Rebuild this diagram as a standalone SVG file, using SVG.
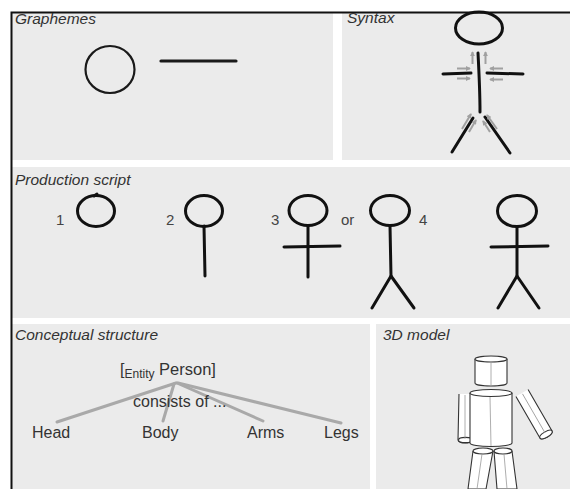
<svg xmlns="http://www.w3.org/2000/svg" width="570" height="489" viewBox="0 0 570 489">
  <defs>
    <marker id="ga" viewBox="0 0 6 6" refX="5" refY="3" markerWidth="5" markerHeight="5" orient="auto" markerUnits="userSpaceOnUse">
      <path d="M0,0 L6,3 L0,6 Z" fill="#a0a0a0"/>
    </marker>
  </defs>
  <style>
    .panel { fill: #ebebeb; }
    .title { font-family: "Liberation Sans", Arial, sans-serif; font-style: italic; font-size: 15.5px; fill: #333333; }
    .lbl { font-family: "Liberation Sans", Arial, sans-serif; font-size: 16px; fill: #333333; }
    .num { font-family: "Liberation Sans", Arial, sans-serif; font-size: 15px; fill: #444444; }
    .ink { fill: none; stroke: #111111; stroke-width: 3; stroke-linecap: round; stroke-linejoin: round; }
    .ink2 { fill: none; stroke: #1a1a1a; stroke-width: 2.2; stroke-linecap: round; }
    .arw { fill: none; stroke: #a0a0a0; stroke-width: 2; marker-end: url(#ga); }
    .tree { fill: none; stroke: #a9a9a9; stroke-width: 3; stroke-linecap: round; }
    .cyl { fill: #ffffff; stroke: #333333; stroke-width: 1.1; }
    .axis { fill: none; stroke: #999999; stroke-width: 0.8; }
  </style>

  <rect x="0" y="0" width="570" height="489" fill="#ffffff"/>

  <!-- panel backgrounds -->
  <rect class="panel" x="12" y="13" width="321" height="147"/>
  <rect class="panel" x="342" y="13" width="228" height="147"/>
  <rect class="panel" x="12" y="167" width="558" height="151"/>
  <rect class="panel" x="12" y="324" width="358" height="165"/>
  <rect class="panel" x="376" y="324" width="194" height="165"/>

  <!-- outer frame -->
  <path d="M11.5,489 L11.5,12.5 L570,12.5" fill="none" stroke="#111111" stroke-width="2"/>

  <!-- Graphemes -->
  <g id="graphemes">
    <text class="title" x="15" y="24">Graphemes</text>
    <ellipse class="ink2" cx="110" cy="69.5" rx="24.5" ry="23.5"/>
    <path d="M161,61 L236,61" fill="none" stroke="#1a1a1a" stroke-width="3.2" stroke-linecap="round"/>
  </g>

  <!-- Syntax -->
  <g id="syntax">
    <text class="title" x="347" y="23">Syntax</text>
    <ellipse class="ink" cx="479" cy="28" rx="23.5" ry="16"/>
    <path class="ink" d="M478,53 C479,72 480,92 480,112" stroke-width="4"/>
    <path class="ink" d="M443,74 L471,73" stroke-width="4"/>
    <path class="ink" d="M487,73 L523,74" stroke-width="4"/>
    <path class="ink" d="M473,118 L452,152" stroke-width="4"/>
    <path class="ink" d="M485,117 L510,153" stroke-width="4"/>
    <!-- joint arrows -->
    <path class="arw" d="M472.5,64 L472.5,52"/>
    <path class="arw" d="M485.5,64 L485.5,52"/>
    <path class="arw" d="M457,68.5 L470,68.5"/>
    <path class="arw" d="M457,78.5 L470,78.5"/>
    <path class="arw" d="M503,68.5 L490,68.5"/>
    <path class="arw" d="M503,79.5 L490,79.5"/>
    <path class="arw" d="M462,129 L471,114"/>
    <path class="arw" d="M469,132 L476,120"/>
    <path class="arw" d="M497,129 L487,115"/>
    <path class="arw" d="M490,132 L483,121"/>
  </g>

  <!-- Production script -->
  <g id="production">
    <text class="title" x="15" y="185">Production script</text>
    <text class="num" x="56" y="225">1</text>
    <ellipse class="ink" cx="96" cy="211" rx="18.5" ry="15.5"/>
    <path class="ink" d="M94,196 L97,194"/>

    <text class="num" x="166" y="225">2</text>
    <ellipse class="ink" cx="204" cy="211" rx="18.5" ry="15.5"/>
    <path class="ink" d="M204,226 L205,276"/>

    <text class="num" x="271" y="225">3</text>
    <ellipse class="ink" cx="308" cy="210.5" rx="19" ry="15"/>
    <path class="ink" d="M308,225.5 L308,277"/>
    <path class="ink" d="M284,247 L340,246"/>

    <text class="num" x="341" y="225">or</text>
    <ellipse class="ink" cx="390" cy="210.5" rx="19.5" ry="15"/>
    <path class="ink" d="M390,225.5 L391,276 L372,308"/>
    <path class="ink" d="M391,276 L414,308"/>

    <text class="num" x="419" y="225">4</text>
    <ellipse class="ink" cx="517" cy="211" rx="19.5" ry="15.5"/>
    <path class="ink" d="M517,226.5 L517,276 L498,308"/>
    <path class="ink" d="M517,276 L539,308"/>
    <path class="ink" d="M491,247 L548,246"/>
  </g>

  <!-- Conceptual structure -->
  <g id="conceptual">
    <text class="title" x="15" y="340">Conceptual structure</text>
    <g id="tree-edges">
      <path class="tree" d="M176,383 L57,422"/>
      <path class="tree" d="M174,384 L163,421"/>
      <path class="tree" d="M177,383 L263,421"/>
      <path class="tree" d="M178,383 L341,423"/>
    </g>
    <text class="lbl" x="120" y="375">[<tspan font-size="12" dy="3">Entity</tspan><tspan dy="-3" font-size="16.5"> Person]</tspan></text>
    <text class="lbl" x="133" y="407">consists of ...</text>
    <text class="lbl" x="32" y="438">Head</text>
    <text class="lbl" x="142" y="438">Body</text>
    <text class="lbl" x="247" y="438">Arms</text>
    <text class="lbl" x="324" y="438">Legs</text>
  </g>

  <!-- 3D model -->
  <g id="model">
    <text class="title" x="383" y="340">3D model</text>
    <!-- head -->
    <path class="cyl" d="M475,359 L475,383 A16,3 0 0 0 507,383 L507,359"/>
    <ellipse class="cyl" cx="491" cy="359" rx="16" ry="3"/>
    <path class="axis" d="M491,362 L491,385"/>
    <!-- left arm -->
    <path class="cyl" d="M459,394 L458,440 A7,3 0 0 0 472,440 L472,394"/>
    <ellipse class="cyl" cx="465.5" cy="440" rx="7" ry="2.6"/>
    <path class="axis" d="M465,395 L465,439"/>
    <!-- torso -->
    <path class="cyl" d="M470,393 L470,443 A21,3.5 0 0 0 512,443 L512,393"/>
    <ellipse class="cyl" cx="491" cy="393" rx="21" ry="3.5"/>
    <path class="axis" d="M490,397 L491,446"/>
    <!-- right arm -->
    <g transform="rotate(-30 522 393)">
      <path class="cyl" d="M515,393 L515,441 A7,2.8 0 0 0 529,441 L529,393"/>
      <ellipse class="cyl" cx="522" cy="441" rx="7" ry="2.8"/>
      <path class="axis" d="M522,394 L522,439"/>
    </g>
    <!-- legs -->
    <path class="cyl" d="M473,451 L468,489 L486,489 L493,451"/>
    <ellipse class="cyl" cx="483" cy="451" rx="10" ry="3"/>
    <path class="axis" d="M482,454 L477,489"/>
    <path class="cyl" d="M494,451 L497,489 L517,489 L512,451"/>
    <ellipse class="cyl" cx="503" cy="451" rx="9" ry="3"/>
    <path class="axis" d="M504,454 L507,489"/>
  </g>
</svg>
